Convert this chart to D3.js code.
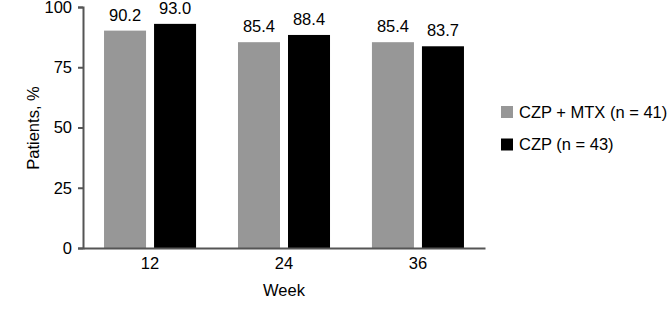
<!DOCTYPE html>
<html>
<head>
<meta charset="utf-8">
<script src="https://cdn.jsdelivr.net/npm/d3@7"></script>
<style>
  body { margin: 0; background: #fff; }
  text { font-family: 'Liberation Sans', Arial, sans-serif; fill: #000; }
</style>
</head>
<body>
<div id="chart"></div>
<script>
const weeks = ['12', '24', '36']
const series = ['CZP + MTX (n = 41)', 'CZP (n = 43)']
const czpMtx = [90.2, 85.4, 85.4]
const czp = [93.0, 88.4, 83.7]
const yTicks = [0, 25, 50, 75, 100]
const colors = ['#979797', '#000000']

const width = 669
const height = 320
const fontSize = 16.5

const svg = d3.select('#chart').append('svg')
  .attr('width', width)
  .attr('height', height)

const x0 = d3.scaleBand()
  .domain(weeks)
  .range([83, 485])
  .paddingInner(0.313)
  .paddingOuter(0.157)

const x1 = d3.scaleBand()
  .domain(series)
  .range([0, x0.bandwidth()])
  .paddingInner(0.16)

const y = d3.scaleLinear()
  .domain([0, 100])
  .range([248, 7])

const rows = weeks.map((w, i) => ({ week: w, values: [czpMtx[i], czp[i]] }))

const groups = svg.append('g').selectAll('g')
  .data(rows)
  .enter().append('g')
  .attr('transform', d => 'translate(' + x0(d.week) + ',0)')

groups.selectAll('rect')
  .data(d => d.values.map((v, i) => ({ key: series[i], value: v, i: i })))
  .enter().append('rect')
  .attr('x', d => x1(d.key))
  .attr('y', d => y(d.value))
  .attr('width', x1.bandwidth())
  .attr('height', d => y(0) - y(d.value))
  .attr('fill', d => colors[d.i])

groups.selectAll('text.val')
  .data(d => d.values.map((v, i) => ({ key: series[i], value: v })))
  .enter().append('text')
  .attr('class', 'val')
  .attr('x', d => x1(d.key) + x1.bandwidth() / 2)
  .attr('y', d => y(d.value) - 10)
  .attr('text-anchor', 'middle')
  .style('font-size', fontSize + 'px')
  .text(d => d.value.toFixed(1))

// y axis
const yAxis = svg.append('g')
  .attr('transform', 'translate(83,0)')
  .call(d3.axisLeft(y).tickValues(yTicks).tickSize(5).tickPadding(6))
yAxis.select('.domain').attr('stroke', '#555').attr('stroke-width', 2)
yAxis.selectAll('.tick line').attr('stroke', '#555').attr('stroke-width', 2)
yAxis.selectAll('.tick text')
  .style('font-size', fontSize + 'px')
  .style('font-family', "'Liberation Sans', Arial, sans-serif")
  .attr('fill', '#000')

// x axis
const xAxis = svg.append('g')
  .attr('transform', 'translate(0,' + y(0) + ')')
  .call(d3.axisBottom(x0).tickSize(0).tickPadding(9).tickSizeOuter(0))
xAxis.select('.domain').attr('stroke', '#555').attr('stroke-width', 2)
xAxis.selectAll('.tick text')
  .style('font-size', fontSize + 'px')
  .style('font-family', "'Liberation Sans', Arial, sans-serif")
  .attr('fill', '#000')

svg.append('text')
  .attr('x', (83 + 485) / 2)
  .attr('y', 296)
  .attr('text-anchor', 'middle')
  .style('font-size', fontSize + 'px')
  .text('Week')

svg.append('text')
  .attr('transform', 'translate(39,128) rotate(-90)')
  .attr('text-anchor', 'middle')
  .style('font-size', fontSize + 'px')
  .text('Patients, %')

// legend
const legend = svg.append('g').selectAll('g')
  .data(series)
  .enter().append('g')
  .attr('transform', (d, i) => 'translate(501,' + (106 + i * 32.5) + ')')

legend.append('rect')
  .attr('width', 12)
  .attr('height', 12)
  .attr('fill', (d, i) => colors[i])

legend.append('text')
  .attr('x', 18)
  .attr('y', 6)
  .attr('dy', '0.35em')
  .style('font-size', fontSize + 'px')
  .text(d => d)
</script>
</body>
</html>
